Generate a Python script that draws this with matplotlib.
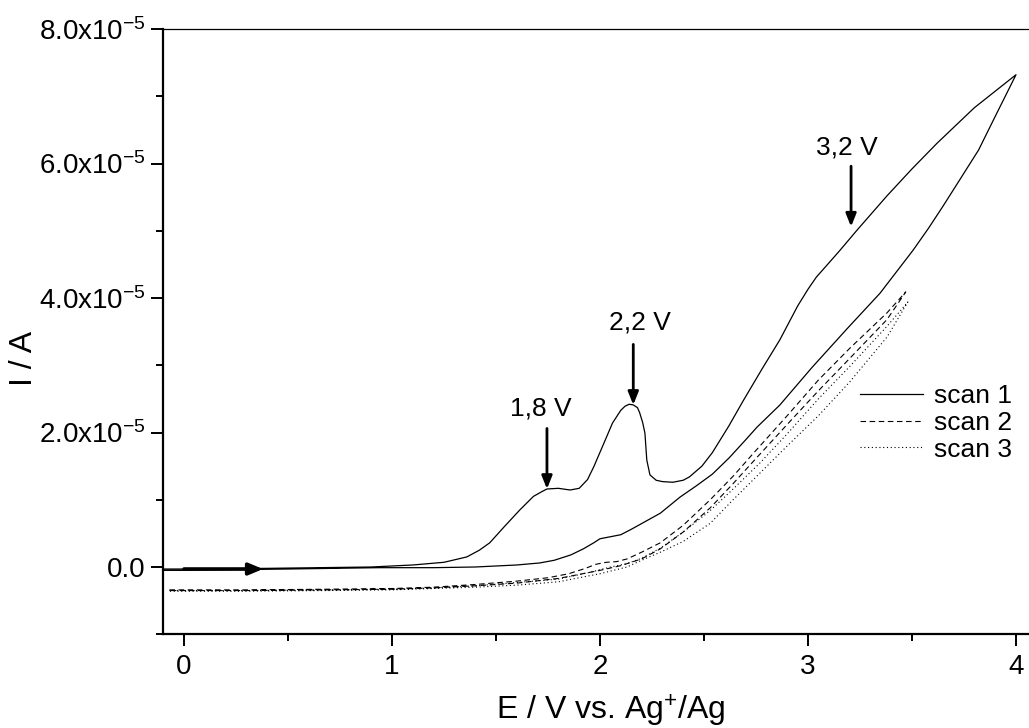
import matplotlib
matplotlib.use("Agg")
import matplotlib.pyplot as plt
from matplotlib.lines import Line2D
import numpy as np

plt.rcParams['font.family'] = ['Liberation Sans', 'DejaVu Sans']
plt.rcParams['mathtext.fontset'] = 'custom'
plt.rcParams['mathtext.rm'] = 'Liberation Sans'
plt.rcParams['mathtext.it'] = 'Liberation Sans:italic'
plt.rcParams['mathtext.default'] = 'regular'

# ---------------- data (E in V, I in 1e-5 A) ----------------
scan1_fwd_E = [-0.1, 0.0, 0.4, 0.9, 1.1, 1.25, 1.36, 1.42, 1.47, 1.54, 1.615, 1.68, 1.72,
               1.745, 1.80, 1.856, 1.90, 1.94, 1.97, 2.02, 2.06, 2.10, 2.12, 2.14, 2.16,
               2.18, 2.19, 2.205, 2.216, 2.225, 2.24, 2.27, 2.30, 2.35, 2.40, 2.43, 2.49,
               2.54, 2.62, 2.69, 2.78, 2.865, 2.95, 3.0, 3.04, 3.08, 3.12, 3.154, 3.236,
               3.38, 3.5, 3.62, 3.8, 4.0]
scan1_fwd_I = [-0.03, -0.03, -0.02, 0.0, 0.03, 0.07, 0.15, 0.25, 0.36, 0.6, 0.85, 1.05, 1.12,
               1.16, 1.17, 1.145, 1.17, 1.3, 1.49, 1.85, 2.14, 2.33, 2.39, 2.42, 2.41,
               2.37, 2.30, 2.15, 1.99, 1.59, 1.37, 1.29, 1.27, 1.26, 1.29, 1.34, 1.5,
               1.70, 2.1, 2.48, 2.95, 3.38, 3.88, 4.13, 4.31, 4.45, 4.59, 4.71, 5.01,
               5.52, 5.92, 6.30, 6.83, 7.32]
scan1_rev_E = [4.0, 3.9, 3.82, 3.73, 3.65, 3.58, 3.505, 3.346, 3.19, 3.02, 2.865, 2.755,
               2.70, 2.62, 2.54, 2.46, 2.385, 2.29, 2.22, 2.15, 2.10, 2.05, 2.00, 1.97,
               1.92, 1.86, 1.78, 1.71, 1.6, 1.4, 1.2, 0.94, 0.5, 0.0, -0.1]
scan1_rev_I = [7.32, 6.70, 6.2, 5.76, 5.37, 5.04, 4.71, 4.07, 3.55, 2.97, 2.41, 2.08,
               1.89, 1.62, 1.38, 1.2, 1.04, 0.80, 0.68, 0.56, 0.48, 0.45, 0.42, 0.36,
               0.27, 0.18, 0.10, 0.06, 0.03, 0.0, -0.01, -0.01, -0.03, -0.05, -0.05]

scan2_fwd_E = [-0.07, 0.3, 0.7, 1.0, 1.2, 1.4, 1.6, 1.75, 1.85, 1.93, 1.98, 2.03, 2.08,
               2.13, 2.2, 2.29, 2.4, 2.53, 2.64, 2.74, 2.9, 3.05, 3.2, 3.38, 3.47]
scan2_fwd_I = [-0.34, -0.34, -0.33, -0.32, -0.30, -0.26, -0.21, -0.16, -0.10, -0.02, 0.04,
               0.07, 0.08, 0.12, 0.22, 0.36, 0.62, 1.00, 1.35, 1.70, 2.25, 2.78, 3.25,
               3.78, 4.09]
scan2_rev_E = [3.47, 3.38, 3.2, 3.05, 2.9, 2.74, 2.64, 2.53, 2.4, 2.29, 2.2, 2.1, 2.0,
               1.9, 1.8, 1.6, 1.4, 1.2, 1.0, 0.7, 0.3, -0.07]
scan2_rev_I = [4.09, 3.68, 3.1, 2.62, 2.12, 1.58, 1.24, 0.88, 0.52, 0.27, 0.12, 0.02,
               -0.05, -0.11, -0.17, -0.24, -0.28, -0.31, -0.33, -0.34, -0.35, -0.35]

scan3_fwd_E = [-0.07, 0.3, 0.7, 1.0, 1.2, 1.4, 1.6, 1.8, 1.95, 2.05, 2.13, 2.2, 2.29,
               2.4, 2.53, 2.64, 2.77, 2.9, 3.05, 3.2, 3.38, 3.48]
scan3_fwd_I = [-0.35, -0.35, -0.34, -0.33, -0.31, -0.28, -0.23, -0.18, -0.08, 0.0, 0.05,
               0.13, 0.28, 0.52, 0.84, 1.16, 1.55, 1.98, 2.5, 2.98, 3.58, 3.94]
scan3_rev_E = [3.48, 3.38, 3.2, 3.05, 2.9, 2.77, 2.64, 2.53, 2.4, 2.29, 2.2, 2.13, 2.0,
               1.8, 1.6, 1.4, 1.2, 1.0, 0.7, 0.3, -0.07]
scan3_rev_I = [3.94, 3.42, 2.75, 2.25, 1.8, 1.40, 1.0, 0.65, 0.38, 0.22, 0.1, 0.0, -0.1,
               -0.22, -0.27, -0.30, -0.32, -0.34, -0.35, -0.36, -0.36]

scan_labels = ["scan 1", "scan 2", "scan 3"]
peak_labels = ["1,8 V", "2,2 V", "3,2 V"]
peak_E = [1.745, 2.16, 3.207]
peak_I = [1.16, 2.41, 5.06]

x_ticks = [0, 1, 2, 3, 4]
y_ticks = [0.0, 2.0e-5, 4.0e-5, 6.0e-5, 8.0e-5]
y_ticklabels = ["0.0", "2.0x10$^{-5}$", "4.0x10$^{-5}$", "6.0x10$^{-5}$", "8.0x10$^{-5}$"]

S = 1e-5
# ---------------- figure ----------------
W, H = 1029, 728
fig = plt.figure(figsize=(W / 100, H / 100), dpi=100)
left_px, right_px, top_px, bot_px = 163.2, 1036.8, 29.0, 634.25
ax = fig.add_axes([left_px / W, (H - bot_px) / H, (right_px - left_px) / W, (bot_px - top_px) / H])

solid = dict(color='black', lw=0.9, linestyle='-')
dashed = dict(color='black', lw=0.8, linestyle=(0, (5, 3.2)))
dotted = dict(color='black', lw=0.8, linestyle=(0, (1, 2.4)))

ax.plot(scan1_fwd_E + scan1_rev_E, np.array(scan1_fwd_I + scan1_rev_I) * S, **solid)
ax.plot(scan2_fwd_E + scan2_rev_E, np.array(scan2_fwd_I + scan2_rev_I) * S, **dashed)
ax.plot(scan3_fwd_E + scan3_rev_E, np.array(scan3_fwd_I + scan3_rev_I) * S, **dotted)

ax.set_xlim(-0.1, 4.1)
ax.set_ylim(-1e-5, 8e-5)

ax.set_xticks(x_ticks)
ax.set_xticklabels([str(t) for t in x_ticks])
ax.set_xticks([0.5, 1.5, 2.5, 3.5], minor=True)
ax.set_yticks(y_ticks)
ax.set_yticklabels(y_ticklabels)
ax.set_yticks([-1e-5, 1e-5, 3e-5, 5e-5, 7e-5], minor=True)

ax.tick_params(axis='both', which='major', direction='out', length=8.5, width=1.4,
               labelsize=20, color='black')
ax.tick_params(axis='both', which='minor', direction='out', length=5, width=1.4)
ax.tick_params(axis='x', which='major', pad=6)
ax.tick_params(axis='y', which='major', pad=4)

for s in ['left', 'bottom']:
    ax.spines[s].set_linewidth(1.6)
ax.spines['top'].set_linewidth(0.9)
ax.spines['right'].set_linewidth(0.9)

fig.text(611 / W, 1 - 711 / H, "E / V vs. Ag$^{+}$/Ag", fontsize=23, ha='center', va='center')
fig.text(24 / W, 1 - 358 / H, "I / A", fontsize=23, ha='center', va='center', rotation=90)

# scan direction arrow
ax.annotate('', xy=(0.38, -0.03 * S), xytext=(0.0, -0.03 * S),
            arrowprops=dict(arrowstyle='-|>,head_length=0.6,head_width=0.25', lw=2.6,
                            color='black', mutation_scale=14, shrinkA=0, shrinkB=0))

# peak annotations
arrow_len = 0.9
text_off = [0.30, 0.32, 0.28]
text_dx = [-0.03, 0.03, -0.02]
for lab, e, i, to, dx in zip(peak_labels, peak_E, peak_I, text_off, text_dx):
    ax.annotate('', xy=(e, i * S), xytext=(e, (i + arrow_len) * S),
                arrowprops=dict(arrowstyle='-|>,head_length=0.55,head_width=0.22', lw=2.0,
                                color='black', mutation_scale=14, shrinkA=0, shrinkB=0))
    ax.text(e + dx, (i + arrow_len + to) * S, lab, fontsize=19, ha='center', va='center')

# legend
handles = [Line2D([], [], **solid), Line2D([], [], **dashed), Line2D([], [], **dotted)]
leg = ax.legend(handles, scan_labels, loc='center left',
                bbox_to_anchor=(860 / W, 1 - 423 / H), bbox_transform=fig.transFigure,
                frameon=False, fontsize=19, handlelength=2.4, handletextpad=0.4,
                labelspacing=0.1, borderpad=0, borderaxespad=0)

fig.savefig("out.png", dpi=100)
